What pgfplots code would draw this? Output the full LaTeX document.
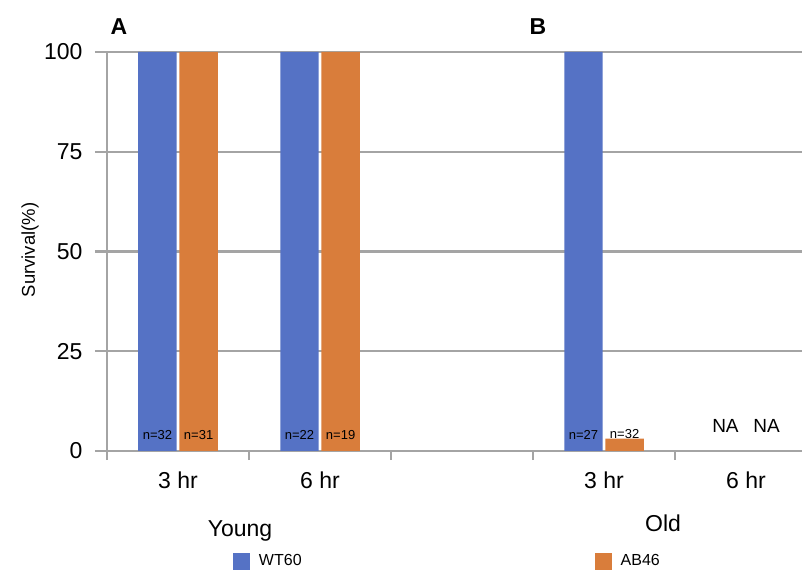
\documentclass[border=0pt]{standalone}
\usepackage{fontspec}
\setmainfont{Liberation Sans}
\usepackage{pgfplots}
\pgfplotsset{compat=1.18}
\definecolor{wtblue}{HTML}{5572C5}
\definecolor{aborange}{HTML}{D97D3B}
\definecolor{gridgray}{HTML}{A4A4A4}
\begin{document}
\begin{tikzpicture}[x=1pt,y=1pt]
\useasboundingbox (0,0) rectangle (802,572);
\begin{axis}[
  at={(107pt,121pt)}, anchor=south west,
  scale only axis, width=695pt, height=399pt,
  xmin=-0.5, xmax=4.394, ymin=0, ymax=100,
  axis x line*=bottom, axis y line*=left,
  axis line style={draw=gridgray, line width=1.8pt},
  ytick={0,25,50,75,100},
  ymajorgrids, grid style={draw=gridgray, line width=2.2pt},
  tick align=outside,
  major tick length=12pt,
  minor tick length=9pt,
  ytick style={draw=gridgray, line width=2.2pt},
  xtick={0,1,3,4}, xticklabels={3 hr,6 hr,3 hr,6 hr},
  major x tick style={draw=none},
  minor xtick={-0.5,0.5,1.5,2.5,3.5},
  minor x tick style={draw=gridgray, line width=1.8pt},
  tick label style={font=\fontsize{23}{25}\selectfont},
  yticklabel style={xshift=-9pt},
  xticklabel style={yshift=-5.5pt},
  /pgf/number format/assume math mode=true,
  ybar, bar width=0.27,
  clip=false,
  legend style={at={(0.181,-0.2757)}, anchor=west, draw=none, fill=none,
    inner sep=0pt, legend columns=2, font=\fontsize{16}{18}\selectfont,
    /tikz/every odd column/.append style={column sep=7pt},
    /tikz/every even column/.append style={column sep=291pt}},
]
\addplot[fill=wtblue, draw=none, bar shift=-0.145,
  legend image code/.code={\fill[wtblue] (0pt,-8.5pt) rectangle (17pt,8.5pt);}]
  coordinates {(0,100) (1,100) (3,100)};
\addlegendentry{WT60}
\addplot[fill=aborange, draw=none, bar shift=0.145,
  legend image code/.code={\fill[aborange] (0pt,-8.5pt) rectangle (17pt,8.5pt);}]
  coordinates {(0,100) (1,100) (3,3.1)};
\addlegendentry{AB46}
% sample sizes
\begin{scope}[every node/.style={font=\fontsize{13}{15}\selectfont, inner sep=0pt}]
\node at (axis cs:-0.145,0) [yshift=16pt] {n=32};
\node at (axis cs:0.145,0) [yshift=16pt] {n=31};
\node at (axis cs:0.855,0) [yshift=16pt] {n=22};
\node at (axis cs:1.145,0) [yshift=16pt] {n=19};
\node at (axis cs:2.855,0) [yshift=16pt] {n=27};
\node at (axis cs:3.145,0) [yshift=17pt] {n=32};
\end{scope}
\node[font=\fontsize{19}{21}\selectfont, inner sep=0pt] at (axis cs:3.855,0) [yshift=25pt] {NA};
\node[font=\fontsize{19}{21}\selectfont, inner sep=0pt] at (axis cs:4.145,0) [yshift=25pt] {NA};
\end{axis}
\node[font=\fontsize{18.5}{20}\selectfont, rotate=90] at (30,322) {Survival(\%)};
\node[font=\fontsize{23}{25}\selectfont, anchor=base] at (240,35) {Young};
\node[font=\fontsize{23}{25}\selectfont, anchor=base] at (663,40) {Old};
\node[font=\bfseries\fontsize{23}{25}\selectfont] at (119,545) {A};
\node[font=\bfseries\fontsize{23}{25}\selectfont] at (538,545) {B};
\end{tikzpicture}
\end{document}
